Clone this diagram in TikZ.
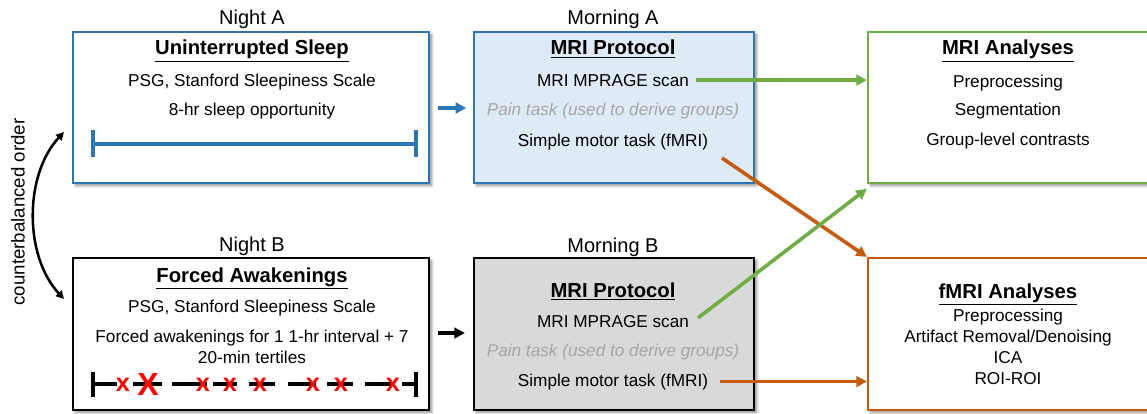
\documentclass[tikz,border=0pt]{standalone}
\usepackage{fontspec}
\setmainfont{Liberation Sans}
\usetikzlibrary{arrows.meta,shadows.blur}
\definecolor{cblue}{HTML}{2E75B6}
\definecolor{lblue}{HTML}{DEEBF7}
\definecolor{cgreen}{HTML}{70AD47}
\definecolor{corange}{HTML}{C55A11}
\definecolor{lgray}{HTML}{D9D9D9}
\definecolor{tgray}{HTML}{A6A6A6}
\definecolor{cred}{HTML}{FF0000}
\begin{document}
\begin{tikzpicture}[x=0.75pt,y=-0.75pt,
  panel/.style={draw, line width=1.6pt, inner sep=0pt, fill=white,
    blur shadow={shadow xshift=2pt,shadow yshift=-2pt,shadow opacity=45,shadow blur steps=5}},
  sz/.style 2 args={minimum width=#1*0.75pt, minimum height=#2*0.75pt},
  body/.style={font=\fontsize{12.9}{15}\selectfont, anchor=base, inner sep=0pt},
  pain/.style={font=\fontsize{12.9}{15}\selectfont\itshape, text=tgray, anchor=base, inner sep=0pt},
  ttl/.style={font=\fontsize{15.2}{18}\selectfont\bfseries, anchor=base, inner sep=0pt},
  lbl/.style={font=\fontsize{15}{18}\selectfont, anchor=base, inner sep=0pt},
  arr/.style={line width=2.7pt, -{Triangle[length=8pt,width=8pt]}},
  tl/.style={line width=2.6pt},
  xmark/.style={font=\fontsize{19}{19}\selectfont\bfseries, text=cred, inner sep=0pt},
  bigx/.style={font=\fontsize{24}{24}\selectfont\bfseries, text=cred, inner sep=0pt},
]
\useasboundingbox (0,0) rectangle (1147,414);

% boxes
\node[panel, draw=cblue, sz={356}{151}] (nightA) at (251,107.5) {};
\node[panel, draw=cblue, fill=lblue, sz={280}{151}] (mornA) at (614,107.5) {};
\node[panel, draw=cgreen, sz={282}{151}] (mriA) at (1009,107.5) {};
\node[panel, draw=black, sz={356}{152}] (nightB) at (251,334) {};
\node[panel, draw=black, fill=lgray, sz={280}{152}] (mornB) at (614,334) {};
\node[panel, draw=corange, sz={282}{152}] (fmri) at (1009,334) {};

% labels above
\node[lbl] (labNA) at (252,25) {Night A};
\node[lbl] (labMA) at (613,25) {Morning A};
\node[lbl] (labNB) at (252,251) {Night B};
\node[lbl] (labMB) at (613,252) {Morning B};

% Night A
\node[ttl] (nA1) at (252,55) {\underline{Uninterrupted Sleep}};
\node[body] (nA2) at (252,86) {PSG, Stanford Sleepiness Scale};
\node[body] (nA3) at (252,115) {8-hr sleep opportunity};
\draw[cblue, tl] (93,144) -- (416,144);
\draw[cblue, tl] (93,130) -- (93,157);
\draw[cblue, tl] (416,130) -- (416,157);

% Morning A
\node[ttl] (mA1) at (613,55) {\underline{MRI Protocol}};
\node[body] (mA2) at (613,86) {MRI MPRAGE scan};
\node[pain] (mA3) at (613,115) {Pain task (used to derive groups)};
\node[body] (mA4) at (613,146) {Simple motor task (fMRI)};

% MRI analyses
\node[ttl] (r1) at (1008,55) {\underline{MRI Analyses}};
\node[body] (r2) at (1008,87) {Preprocessing};
\node[body] (r3) at (1008,115) {Segmentation};
\node[body] (r4) at (1008,145) {Group-level contrasts};

% Night B
\node[ttl] (nB1) at (252,282) {\underline{Forced Awakenings}};
\node[body] (nB2) at (252,312) {PSG, Stanford Sleepiness Scale};
\node[body] (nB3) at (252,342) {Forced awakenings for 1 1-hr interval + 7};
\node[body] (nB4) at (252,363) {20-min tertiles};
\foreach \a/\b in {93/117,133/162,172/207,213/237,249/275,288/316,327/353,365/392,402/416}
  \draw[tl] (\a,384) -- (\b,384);
\draw[tl] (93,372) -- (93,397);
\draw[tl] (416,372) -- (416,397);
\foreach \p in {123,203,230,260,313,341,393}
  \node[xmark] at (\p,385) {x};
\node[bigx] at (148,384) {X};

% Morning B
\node[ttl] (mB1) at (613,297) {\underline{MRI Protocol}};
\node[body] (mB2) at (613,327) {MRI MPRAGE scan};
\node[pain] (mB3) at (613,356) {Pain task (used to derive groups)};
\node[body] (mB4) at (613,386) {Simple motor task (fMRI)};

% fMRI analyses
\node[ttl] (f1) at (1008,298) {\underline{fMRI Analyses}};
\node[body] (f2) at (1008,321) {Preprocessing};
\node[body] (f3) at (1008,342) {Artifact Removal/Denoising};
\node[body] (f4) at (1008,363) {ICA};
\node[body] (f5) at (1008,384) {ROI-ROI};

% connectors
\draw[arr, cblue] ([xshift=6pt]nightA.east |- 0,108) -- ([xshift=-5pt]mornA.west |- 0,108);
\draw[arr, black] ([xshift=6pt]nightB.east |- 0,333) -- ([xshift=-6pt]mornB.west |- 0,333);
\draw[arr, cgreen] ([xshift=5pt]mA2.east) -- (mA2.east -| mriA.west);
\coordinate (o1) at (722,158);
\draw[arr, corange] (o1) -- (fmri.north west);
\coordinate (g1) at (698,318);
\draw[arr, cgreen] (g1) -- ([yshift=-3.5pt]mriA.south west);
\draw[arr, corange] ([xshift=9pt]mB4.east) -- (mB4.east -| fmri.west);

% counterbalanced
\coordinate (cbt) at (64,132);
\coordinate (cbb) at (64,299);
\draw[line width=1.9pt, {Triangle[length=6pt,width=6pt]}-{Triangle[length=6pt,width=6pt]}]
  (cbt) .. controls (24,175) and (24,256) .. (cbb);
\node[font=\fontsize{14}{16}\selectfont, rotate=90, inner sep=0pt] (cbl) at (18,212) {counterbalanced order};
\end{tikzpicture}
\end{document}
